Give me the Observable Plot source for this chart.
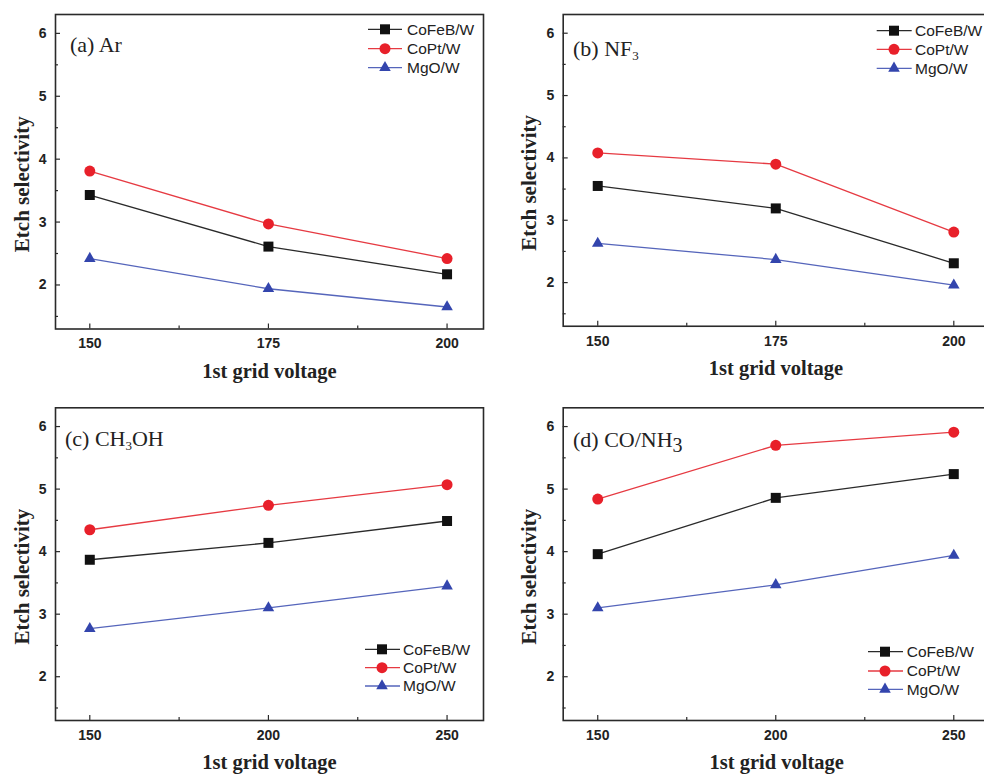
<!DOCTYPE html>
<html><head><meta charset="utf-8">
<script src="https://cdn.jsdelivr.net/npm/d3@7"></script>
<script src="https://cdn.jsdelivr.net/npm/@observablehq/plot@0.6"></script>
<style>
body{margin:0;background:#fff}
#wrap{position:relative;width:984px;height:774px;overflow:hidden;background:#fff}
.panel{position:absolute}
.plabel{position:absolute;font-family:"Liberation Serif","Times New Roman",serif;font-size:22px;line-height:24px;white-space:nowrap;color:#222}
.plabel sub{font-size:13px;vertical-align:-4px;line-height:0}
.plabel sub.big{font-size:20px;vertical-align:-5px}
#overlay{position:absolute;left:0;top:0;pointer-events:none}
</style></head>
<body><div id="wrap"></div>
<script>
// ---- data ----
const series = ["CoFeB/W", "CoPt/W", "MgO/W"];
const markerColors = ["#111111", "#e8202a", "#3345ad"];
const lineColors = ["#2a2a2a", "#e63a42", "#5565bb"];
const symbols = ["square", "circle", "triangle"];

const voltagesTop = [150, 175, 200];
const voltagesBottom = [150, 200, 250];
const xTicksTop = [150, 175, 200];
const xMinorTop = [162.5, 187.5];
const xTicksBottom = [150, 200, 250];
const xMinorBottom = [175, 225];
const yTicks = [2, 3, 4, 5, 6];
const yMinor = [1.5, 2.5, 3.5, 4.5, 5.5];

const arCoFeB = [3.43, 2.61, 2.17];
const arCoPt  = [3.81, 2.97, 2.42];
const arMgO   = [2.42, 1.94, 1.65];

const nf3CoFeB = [3.55, 3.19, 2.31];
const nf3CoPt  = [4.08, 3.90, 2.81];
const nf3MgO   = [2.63, 2.37, 1.96];

const ch3ohCoFeB = [3.87, 4.14, 4.49];
const ch3ohCoPt  = [4.35, 4.74, 5.07];
const ch3ohMgO   = [2.77, 3.10, 3.45];

const conh3CoFeB = [3.96, 4.86, 5.24];
const conh3CoPt  = [4.84, 5.70, 5.91];
const conh3MgO   = [3.10, 3.47, 3.94];

const xTitle = "1st grid voltage";
const yTitle = "Etch selectivity";
const panelLabels = ["(a) Ar", "(b) NF<sub>3</sub>", "(c) CH<sub>3</sub>OH", "(d) CO/NH<sub class=\"big\">3</sub>"];

// ---- layout ----
const serif = "'Liberation Serif','Times New Roman',serif";
const sans = "'Liberation Sans',Arial,sans-serif";
const symR = [5.64, 5.5, 4.3];

const panels = [
  {left:0, top:0, width:490, height:390, m:[14,7,61.5,55], xd:[145.2,205.1], xs:voltagesTop, xt:xTicksTop, xm:xMinorTop,
   vals:[arCoFeB, arCoPt, arMgO], label:{left:70, top:33},
   legend:{x1:368, x2:402, mx:385, tx:407, rows:[29.3,48.7,67.7]}},
  {left:490, top:0, width:510, height:390, m:[14,11.8,64.25,72.7], xd:[145.15,204.9], xs:voltagesTop, xt:xTicksTop, xm:xMinorTop,
   vals:[nf3CoFeB, nf3CoPt, nf3MgO], label:{left:573, top:37},
   legend:{x1:876.7, x2:911.7, mx:894, tx:915, rows:[30.7,49.3,68.3]}},
  {left:0, top:390, width:490, height:384, m:[17.3,7,54,55], xd:[140.4,260.2], xs:voltagesBottom, xt:xTicksBottom, xm:xMinorBottom,
   vals:[ch3ohCoFeB, ch3ohCoPt, ch3ohMgO], label:{left:65, top:427},
   legend:{x1:365, x2:400, mx:382, tx:403, rows:[649.3,667.7,686]}},
  {left:490, top:390, width:510, height:384, m:[17.3,10.4,54,72.7], xd:[140.3,260.2], xs:voltagesBottom, xt:xTicksBottom, xm:xMinorBottom,
   vals:[conh3CoFeB, conh3CoPt, conh3MgO], label:{left:573, top:428},
   legend:{x1:868, x2:903, mx:885, tx:906.7, rows:[651.7,671,689.3]}}
];

const wrap = document.getElementById("wrap");
const fmt = d => String(d);

panels.forEach((p, pi) => {
  const marks = [];
  const blank = () => "";
  marks.push(Plot.frame({stroke:"#2a2a2a", strokeWidth:1.6}));
  // y axis labels and inward ticks
  marks.push(Plot.axisY(yTicks, {tickSize:0, tickPadding:9, tickFormat:fmt, fontSize:14, fontWeight:"bold", fontFamily:sans, fill:"#222", label:null}));
  marks.push(Plot.axisY(yTicks, {tickSize:-5, tickFormat:blank, stroke:"#2a2a2a", strokeWidth:1.2, label:null}));
  marks.push(Plot.axisY(yMinor, {tickSize:-3, tickFormat:blank, stroke:"#2a2a2a", strokeWidth:1.2, label:null}));
  // x axis
  marks.push(Plot.axisX(p.xt, {tickSize:0, tickPadding:9.5, tickFormat:fmt, fontSize:14, fontWeight:"bold", fontFamily:sans, fill:"#222", label:null}));
  marks.push(Plot.axisX(p.xt, {tickSize:-5, tickFormat:blank, stroke:"#2a2a2a", strokeWidth:1.2, label:null}));
  marks.push(Plot.axisX(p.xm, {tickSize:-3, tickFormat:blank, stroke:"#2a2a2a", strokeWidth:1.2, label:null}));
  // titles
  marks.push(Plot.text([xTitle], {text:d=>d, frameAnchor:"bottom", lineAnchor:"middle", textAnchor:"middle", dy:42, fontSize:20.5, fontWeight:"bold", fontFamily:serif, fill:"#222"}));
  marks.push(Plot.text([yTitle], {text:d=>d, frameAnchor:"left", textAnchor:"middle", lineAnchor:"middle", rotate:-90, dx:(pi%2 ? -34.4 : -33.3), dy:12.5, fontSize:21, fontWeight:"bold", fontFamily:serif, fill:"#222"}));
  // data
  series.forEach((s, i) => {
    const rows = p.xs.map((x, j) => ({series:s, x, y:p.vals[i][j]}));
    marks.push(Plot.line(rows, {x:"x", y:"y", stroke:lineColors[i], strokeWidth:1.3}));
    marks.push(Plot.dot(rows, {x:"x", y:"y", symbol:symbols[i], fill:markerColors[i], stroke:"none", r:symR[i]}));
  });
  const chart = Plot.plot({
    width:p.width, height:p.height,
    marginTop:p.m[0], marginRight:p.m[1], marginBottom:p.m[2], marginLeft:p.m[3],
    x:{domain:p.xd},
    y:{domain:[1.3, 6.3]},
    style:{background:"transparent", overflow:"visible"},
    marks
  });
  chart.classList.add("panel");
  chart.style.left = p.left + "px";
  chart.style.top = p.top + "px";
  wrap.appendChild(chart);

  const lab = document.createElement("div");
  lab.className = "plabel";
  lab.style.left = p.label.left + "px";
  lab.style.top = p.label.top + "px";
  lab.innerHTML = panelLabels[pi];
  wrap.appendChild(lab);
});

// legends overlay
const ov = d3.select(wrap).append("svg").attr("id","overlay").attr("width",984).attr("height",774);
const symMap = {square:d3.symbolSquare, circle:d3.symbolCircle, triangle:d3.symbolTriangle};
panels.forEach(p => {
  const L = p.legend;
  series.forEach((s, i) => {
    const y = L.rows[i];
    ov.append("line").attr("x1",L.x1).attr("x2",L.x2).attr("y1",y).attr("y2",y)
      .attr("stroke",lineColors[i]).attr("stroke-width",1.3);
    ov.append("path").attr("d", d3.symbol(symMap[symbols[i]], Math.PI*symR[i]*symR[i])())
      .attr("transform",`translate(${L.mx},${y})`).attr("fill",markerColors[i]);
    ov.append("text").attr("x",L.tx).attr("y",y).attr("dy","0.35em")
      .attr("font-family",sans).attr("font-size",15.5).attr("fill","#222").text(s);
  });
});
</script>
</body></html>
